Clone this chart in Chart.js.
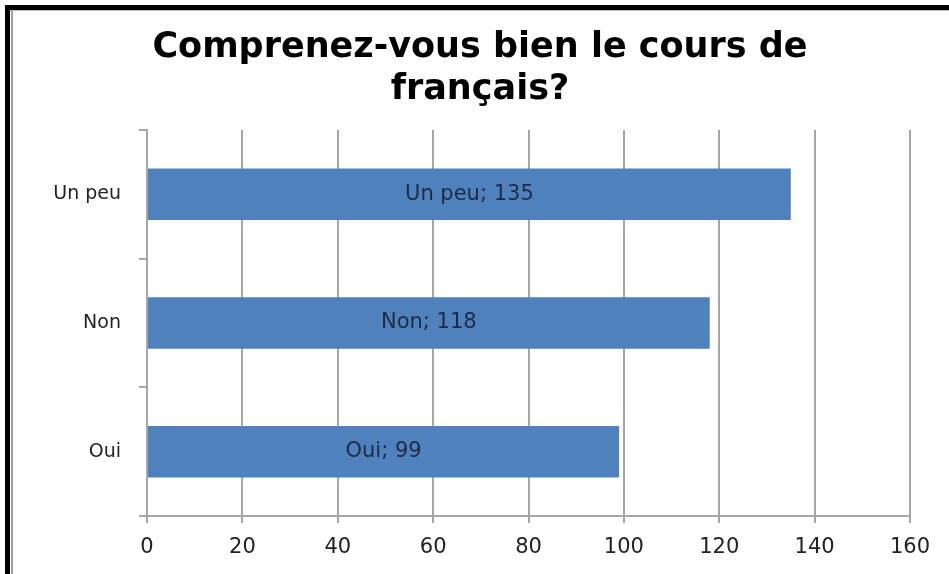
<!DOCTYPE html>
<html>
<head>
<meta charset="utf-8">
<script src="https://cdn.jsdelivr.net/npm/chart.js@4"></script>
<style>
  body { margin: 0; background: #fff; }
  #wrap { position: relative; width: 949px; height: 574px; overflow: hidden; }
  #chart { position: absolute; left: 0; top: 0; }
  .cadre { position: absolute; left: 5px; top: 5px; right: 0; bottom: 0;
           border-left: 5px solid #000; border-top: 5px solid #000; pointer-events: none; }
  .ombreV { position: absolute; left: 11px; top: 10px; width: 2px; bottom: 0; background: #a0a0a0; }
  .ombreH { position: absolute; left: 10px; top: 10px; right: 0; height: 1px; background: #c0c0c0; }
</style>
</head>
<body>
<div id="wrap">
  <canvas id="chart" width="949" height="574"></canvas>
  <div class="cadre"></div>
  <div class="ombreV"></div>
  <div class="ombreH"></div>
</div>
<script>
// Données
const categories = ['Un peu', 'Non', 'Oui'];
const reponses = [135, 118, 99];
const titre = ['Comprenez-vous bien le cours de', 'français?'];
const graduations = { min: 0, max: 160, pas: 20 };

const police = "'DejaVu Sans', sans-serif";
const gris = '#a6a6a6';

// Étiquettes "Catégorie; valeur" au milieu de chaque barre
const etiquettes = {
    id: 'etiquettes',
    afterDatasetsDraw(chart) {
        const ctx = chart.ctx;
        const meta = chart.getDatasetMeta(0);
        ctx.save();
        ctx.font = '21px ' + police;
        ctx.fillStyle = '#1d2b45';
        ctx.textAlign = 'center';
        ctx.textBaseline = 'middle';
        meta.data.forEach((bar, i) => {
            const p = bar.getProps(['x', 'y', 'base'], true);
            ctx.fillText(categories[i] + '; ' + reponses[i], (p.x + p.base) / 2, p.y);
        });
        ctx.restore();
    }
};

const ctx = document.getElementById('chart').getContext('2d');
const chart = new Chart(ctx, {
    type: 'bar',
    data: {
        labels: categories,
        datasets: [{
            data: reponses,
            backgroundColor: '#4f81bd',
            borderWidth: 0,
            categoryPercentage: 1,
            barPercentage: 0.4
        }]
    },
    options: {
        indexAxis: 'y',
        responsive: false,
        animation: false,
        layout: { padding: { left: 50, right: 39, top: 0, bottom: 0 } },
        plugins: {
            legend: { display: false },
            tooltip: { enabled: false },
            title: {
                display: true,
                text: titre,
                color: '#000',
                font: { family: police, size: 35, weight: 'bold', lineHeight: 1.2 },
                padding: { top: 27, bottom: 19 }
            }
        },
        scales: {
            x: {
                min: graduations.min,
                max: graduations.max,
                ticks: { stepSize: graduations.pas, color: '#222', font: { family: police, size: 21 }, padding: 12 },
                grid: { color: gris, lineWidth: 2, tickLength: 7 },
                border: { color: gris, width: 2 },
                afterFit(scale) { scale.height = 58; }
            },
            y: {
                ticks: { color: '#222', font: { family: police, size: 19 }, padding: 18 },
                grid: { drawOnChartArea: false, color: gris, lineWidth: 2, tickLength: 8 },
                border: { color: gris, width: 2 },
                afterFit(scale) { scale.width = 97; }
            }
        }
    },
    plugins: [etiquettes]
});
</script>
</body>
</html>
